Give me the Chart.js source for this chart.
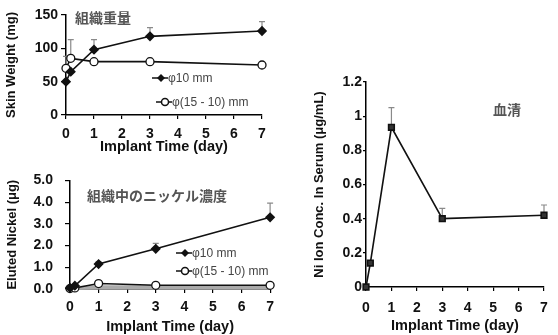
<!DOCTYPE html>
<html><head><meta charset="utf-8">
<script src="https://cdn.jsdelivr.net/npm/chart.js@4"></script>
<style>
body{margin:0;background:#fff;width:558px;height:335px;position:relative;overflow:hidden}
.box{position:absolute}
</style></head><body>
<div class="box" style="left:0;top:0"><canvas id="c1" width="280" height="160"></canvas></div>
<div class="box" style="left:0;top:160px"><canvas id="c2" width="280" height="176"></canvas></div>
<div class="box" style="left:290px;top:50px"><canvas id="c3" width="268" height="285"></canvas></div>
<script>
// ---- data ----
const days = [0, 0.17, 1, 3, 7];
const xTicks = [0, 1, 2, 3, 4, 5, 6, 7];
const skinW10 = [50, 65, 98, 118, 126];
const skinW15 = [70, 85, 80, 80, 75];
const skinW10Err = [null, null, 113, 131, 140];
const skinW15Err = [88, 113, null, 85, null];
const skinTicks = [0, 50, 100, 150];
const nickel10 = [0.05, 0.15, 1.15, 1.85, 3.3];
const nickel15 = [0.02, 0.05, 0.25, 0.17, 0.17];
const nickelBand = [0.03, 0.05, 0.08, 0.08, 0.08];
const nickel10Err = [null, null, 1.25, 2.1, 3.95];
const nickel15Err = [null, null, 0.38, null, null];
const nickelTicks = [0, 1, 2, 3, 4, 5];
const nickelTickLabels = ['0.0', '1.0', '2.0', '3.0', '4.0', '5.0'];
const serum = [0, 0.14, 0.935, 0.40, 0.42];
const serumErr = [null, null, 1.05, 0.46, 0.48];
const serumTicks = [0, 0.2, 0.4, 0.6, 0.8, 1, 1.2];
const serumTickLabels = ['0', '0.2', '0.4', '0.6', '0.8', '1', '1.2'];
const legend10 = 'φ10 mm';
const legend15 = 'φ(15 - 10) mm';

const pts = ys => days.map((d, i) => ({x: d, y: ys[i]}));
const FONT = '"Liberation Sans", Arial, sans-serif';
const CJK = '"Noto Sans CJK JP", sans-serif';

const errPlugin = {
  id: 'errBars',
  beforeDatasetsDraw(chart, args, opts) {
    const {ctx} = chart; const xs = chart.scales.x, ys = chart.scales.y;
    (opts.sets || []).forEach(s => {
      ctx.save(); ctx.strokeStyle = '#8a8a8a'; ctx.lineWidth = 1.2;
      s.err.forEach((e, i) => {
        if (e == null) return;
        const px = xs.getPixelForValue(days[i]);
        const p0 = ys.getPixelForValue(s.val[i]), p1 = ys.getPixelForValue(e);
        ctx.beginPath(); ctx.moveTo(px, p0); ctx.lineTo(px, p1);
        ctx.moveTo(px - 3, p1); ctx.lineTo(px + 3, p1); ctx.stroke();
      });
      ctx.restore();
    });
  }
};
const notePlugin = {
  id: 'notes',
  afterDraw(chart, args, opts) {
    const {ctx} = chart;
    (opts.legend || []).forEach(it => {
      ctx.save(); ctx.strokeStyle = '#111'; ctx.lineWidth = 1.5;
      ctx.beginPath(); ctx.moveTo(it.x, it.y); ctx.lineTo(it.x + 16, it.y); ctx.stroke();
      const mx = it.x + 9;
      ctx.beginPath();
      if (it.style === 'diamond') {
        ctx.fillStyle = '#111';
        ctx.moveTo(mx, it.y - 4); ctx.lineTo(mx + 4, it.y); ctx.lineTo(mx, it.y + 4); ctx.lineTo(mx - 4, it.y); ctx.closePath(); ctx.fill();
      } else {
        ctx.fillStyle = '#fff'; ctx.arc(mx, it.y, 3.5, 0, Math.PI * 2); ctx.fill(); ctx.stroke();
      }
      ctx.fillStyle = '#444'; ctx.font = '12px ' + FONT; ctx.textBaseline = 'middle'; ctx.textAlign = 'left';
      ctx.fillText(it.text, it.x + 16, it.y + 1);
      ctx.restore();
    });
    (opts.labels || []).forEach(l => {
      ctx.save(); ctx.fillStyle = '#555'; ctx.font = 'bold 14px ' + CJK; ctx.textBaseline = 'middle'; ctx.textAlign = 'left';
      ctx.fillText(l.text, l.x, l.y); ctx.restore();
    });
  }
};

function axisCfg(ticksArr, labels, title, width, min, max, tickPad, tickLen) {
  return {
    type: 'linear', min: min, max: max,
    afterBuildTicks: s => { s.ticks = ticksArr.map(v => ({value: v})); },
    afterFit: s => { s.width = width; },
    border: {color: '#000', width: 1.5},
    grid: {drawOnChartArea: false, color: '#000', tickLength: tickLen, lineWidth: 1.2},
    ticks: {color: '#111', font: {family: FONT, size: 14, weight: 'bold'}, padding: tickPad,
      callback: (v) => { const i = ticksArr.indexOf(v); return labels ? labels[i] : String(v); }},
    title: {display: true, text: title, color: '#111', font: {family: FONT, size: 13, weight: 'bold'}, padding: {top: 0, bottom: 2}}
  };
}
function xCfg(height, tickPad) {
  return {
    type: 'linear', min: 0, max: 7,
    afterBuildTicks: s => { s.ticks = xTicks.map(v => ({value: v})); },
    afterFit: s => { s.height = height; },
    border: {color: '#000', width: 1.5},
    grid: {drawOnChartArea: false, color: '#000', tickLength: 4, lineWidth: 1.2},
    ticks: {color: '#111', font: {family: FONT, size: 14, weight: 'bold'}, padding: tickPad, maxRotation: 0},
    title: {display: true, text: 'Implant Time (day)', color: '#111', font: {family: FONT, size: 14.5, weight: 'bold'}, padding: {top: 0, bottom: 0}}
  };
}
const ds10 = (vals) => ({data: pts(vals), borderColor: '#111', borderWidth: 1.6, pointStyle: 'rectRot', pointRadius: 4, pointBackgroundColor: '#111', pointBorderColor: '#111', clip: false});
const ds15 = (vals) => ({data: pts(vals), borderColor: '#111', borderWidth: 1.6, pointStyle: 'circle', pointRadius: 4, pointBackgroundColor: '#fff', pointBorderColor: '#111', pointBorderWidth: 1.3, clip: false});
const baseOpts = {responsive: false, animation: false, events: [],
  plugins: {legend: {display: false}, tooltip: {enabled: false}}};

new Chart(document.getElementById('c1'), {
  type: 'line',
  data: {datasets: [ds10(skinW10), ds15(skinW15)]},
  options: Object.assign({}, baseOpts, {
    layout: {padding: {left: 4, right: 18, top: 15, bottom: 4}},
    scales: {x: xCfg(41, 7), y: axisCfg(skinTicks, null, 'Skin Weight (mg)', 62, 0, 150, 3, 5)},
    plugins: Object.assign({}, baseOpts.plugins, {
      errBars: {sets: [{val: skinW10, err: skinW10Err}, {val: skinW15, err: skinW15Err}]},
      notes: {legend: [{x: 152, y: 78, text: legend10, style: 'diamond'}, {x: 156, y: 102, text: legend15, style: 'circle'}],
        labels: [{x: 75, y: 18, text: '組織重量'}]}
    })
  }),
  plugins: [errPlugin, notePlugin]
});

new Chart(document.getElementById('c2'), {
  type: 'line',
  data: {datasets: [ds10(nickel10), ds15(nickel15),
    {data: pts(nickelBand), borderColor: '#aaa', borderWidth: 4, pointRadius: 0, clip: false}]},
  options: Object.assign({}, baseOpts, {
    layout: {padding: {left: 5, right: 8, top: 18, bottom: 0}},
    scales: {x: xCfg(47, 6), y: axisCfg(nickelTicks, nickelTickLabels, 'Eluted Nickel (μg)', 65, 0, 5, 12, 5)},
    plugins: Object.assign({}, baseOpts.plugins, {
      errBars: {sets: [{val: nickel10, err: nickel10Err}, {val: nickel15, err: nickel15Err}]},
      notes: {legend: [{x: 176, y: 93, text: legend10, style: 'diamond'}, {x: 176, y: 111, text: legend15, style: 'circle'}],
        labels: [{x: 87, y: 36, text: '組織中のニッケル濃度'}]}
    })
  }),
  plugins: [errPlugin, notePlugin]
});

new Chart(document.getElementById('c3'), {
  type: 'line',
  data: {datasets: [{data: pts(serum), borderColor: '#111', borderWidth: 1.6, pointStyle: 'rect', pointRadius: 4, pointBackgroundColor: '#333', pointBorderColor: '#111', clip: false}]},
  options: Object.assign({}, baseOpts, {
    layout: {padding: {left: 22, right: 14, top: 32, bottom: 0}},
    scales: {x: xCfg(48, 9), y: axisCfg(serumTicks, serumTickLabels, 'Ni Ion Conc. In Serum (μg/mL)', 54, 0, 1.2, 1, 3)},
    plugins: Object.assign({}, baseOpts.plugins, {
      errBars: {sets: [{val: serum, err: serumErr}]},
      notes: {legend: [], labels: [{x: 203, y: 60, text: '血清'}]}
    })
  }),
  plugins: [errPlugin, notePlugin]
});
</script>
</body></html>
